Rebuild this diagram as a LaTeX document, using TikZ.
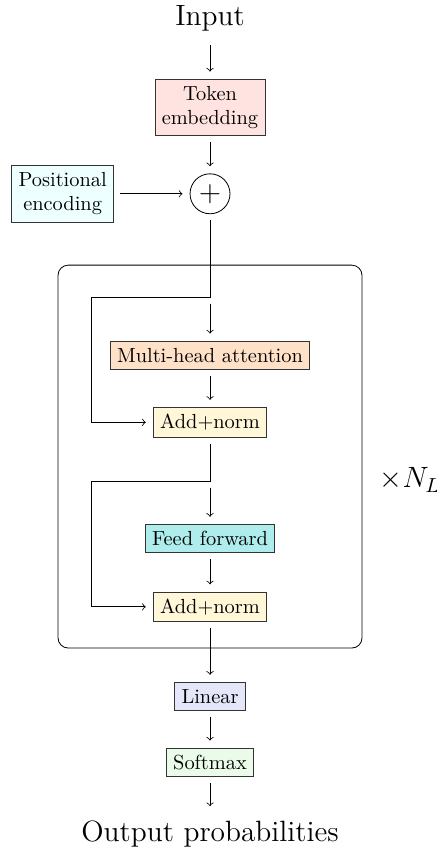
\documentclass[tikz,border=0pt]{standalone}
\usetikzlibrary{positioning}

\definecolor{tokfill}{RGB}{255,227,224}
\definecolor{posfill}{RGB}{238,255,255}
\definecolor{attfill}{RGB}{255,225,200}
\definecolor{normfill}{RGB}{255,247,216}
\definecolor{fffill}{RGB}{175,236,236}
\definecolor{linfill}{RGB}{230,230,250}
\definecolor{smfill}{RGB}{235,251,233}

\begin{document}
\begin{tikzpicture}[
    block/.style={draw=black!80, inner sep=3.33pt, align=center},
    arr/.style={->, shorten >=3.5pt, shorten <=3pt},
    ln/.style={shorten <=3pt}
]

    % Fix the frame of the picture
    \useasboundingbox (0,0) rectangle (7.53,-14.72);

    % Define the nodes of the main column
    \node[font=\Large] (in) at (3.62,-0.32) {Input};
    \node[block, fill=tokfill] (tok) at (3.62,-1.85) {Token\\embedding};
    \node[draw, circle, minimum size=19.6pt, inner sep=0pt, font=\Large] (plus) at (3.62,-3.34) {$+$};
    \node[block, fill=posfill] (pos) at (1.08,-3.34) {Positional\\encoding};

    % Define the nodes inside the repeated layer
    \node[block, fill=attfill] (mha) at (3.62,-6.12) {Multi-head attention};
    \node[block, fill=normfill] (add1) at (3.62,-7.28) {Add+norm};
    \node[block, fill=fffill] (ff) at (3.62,-9.28) {Feed forward};
    \node[block, fill=normfill] (add2) at (3.62,-10.46) {Add+norm};

    % Define the output nodes
    \node[block, fill=linfill] (lin) at (3.62,-12.0) {Linear};
    \node[block, fill=smfill] (sm) at (3.62,-13.14) {Softmax};
    \node[font=\Large] (out) at (3.62,-14.37) {Output probabilities};

    % Define the branch points of the residual paths
    \coordinate (b1) at (3.62,-5.13);
    \coordinate (b2) at (3.62,-8.30);

    % Draw the layer frame
    \draw[rounded corners=5pt] (1.0,-4.57) rectangle (6.24,-11.17);
    \node[font=\Large] (rep) at (7.07,-8.27) {$\times N_L$};

    % Draw the main path
    \draw[arr] (in) -- (tok);
    \draw[arr] (tok) -- (plus);
    \draw[arr] (pos) -- (plus);
    \draw[ln] (plus) -- (b1);
    \draw[arr] (b1) -- (mha);
    \draw[arr] (mha) -- (add1);
    \draw[ln] (add1) -- (b2);
    \draw[arr] (b2) -- (ff);
    \draw[arr] (ff) -- (add2);
    \draw[arr] (add2) -- (lin);
    \draw[arr] (lin) -- (sm);
    \draw[arr] (sm) -- (out);

    % Draw the residual paths
    \draw[arr, shorten <=0pt] (b1) -- ++(-2.05,0) |- (add1);
    \draw[arr, shorten <=0pt] (b2) -- ++(-2.05,0) |- (add2);

\end{tikzpicture}
\end{document}
